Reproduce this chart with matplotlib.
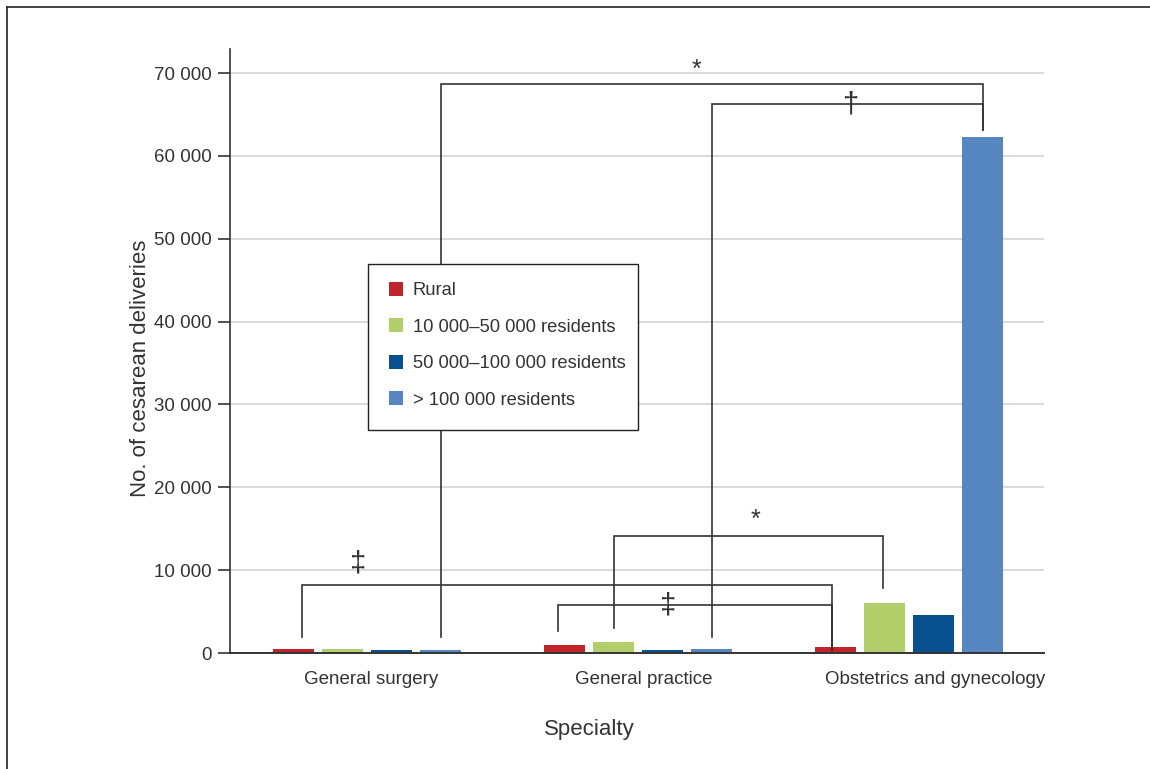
import matplotlib
matplotlib.use("Agg")
import matplotlib.pyplot as plt
import numpy as np
from matplotlib.lines import Line2D
from matplotlib.patches import Rectangle
from matplotlib.ticker import FuncFormatter

# ---------------- data ----------------
categories = ["General surgery", "General practice", "Obstetrics and gynecology"]
series_labels = ["Rural", "10 000\u201350 000 residents",
                 "50 000\u2013100 000 residents", "> 100 000 residents"]
rural = [520, 965, 725]
res_10k_50k = [500, 1370, 6075]
res_50k_100k = [400, 400, 4590]
res_over_100k = [400, 520, 62230]
y_ticks = [0, 10000, 20000, 30000, 40000, 50000, 60000, 70000]
x_label = "Specialty"
y_label = "No. of cesarean deliveries"

# significance brackets: (left group, left series), (right group, right series),
# bracket height, left leg end, right leg end, symbol
brackets = [
    ((0, 3), (2, 3), 68700, 1900, 63100, "*"),
    ((1, 3), (2, 3), 66250, 1900, 63100, "\u2020"),
    ((1, 1), (2, 1), 14100, 3000, 7850, "*"),
    ((0, 0), (2, 0), 8200, 1900, 350, "\u2021"),
    ((1, 0), (2, 0), 5800, 2650, 350, "\u2021"),
]

# ---------------- style ----------------
colors = ["#C1232B", "#B2CF6B", "#08508F", "#5687C0"]
text_color = "#333333"
line_color = "#333333"
plt.rcParams['font.family'] = ['Liberation Sans', 'DejaVu Sans']

W, H = 1150, 769
fig = plt.figure(figsize=(W / 100, H / 100), dpi=100)
ax = fig.add_axes([230 / W, 116 / H, 814 / W, 604 / H])

series = [rural, res_10k_50k, res_50k_100k, res_over_100k]
x = np.arange(len(categories))
step = 49 / 271
width = 41 / 271

def bar_center(g, s):
    return x[g] + (s - 1.5) * step

handles = []
for s, vals in enumerate(series):
    h = ax.bar(x + (s - 1.5) * step, vals, width, color=colors[s],
               label=series_labels[s], zorder=2, linewidth=0)
    handles.append(h)

ax.set_xlim((230 - 367) / 271, (1044 - 367) / 271)
ax.set_ylim(0, 72900)

# grid
ax.set_yticks(y_ticks)
ax.yaxis.set_major_formatter(FuncFormatter(lambda v, p: f"{int(v):,}".replace(",", " ")))
for t in y_ticks[1:]:
    ax.axhline(t, color="#d3d3d3", lw=1.2, zorder=1)

for sp in ["top", "right"]:
    ax.spines[sp].set_visible(False)
ax.spines["left"].set_color(line_color)
ax.spines["left"].set_linewidth(1.2)
ax.spines["bottom"].set_color(line_color)
ax.spines["bottom"].set_linewidth(1.4)
ax.spines["bottom"].set_zorder(3)

ax.tick_params(axis="y", length=9, width=1.2, color=line_color, pad=4,
               labelsize=13.5, labelcolor=text_color)
label_shift = [0.015, 0.02, 0.096]
ax.set_xticks(x + np.array(label_shift))
ax.set_xticklabels(categories)
ax.tick_params(axis="x", length=0, pad=13, labelsize=13.5, labelcolor=text_color)

ax.set_xlabel(x_label, fontsize=16, color=text_color)
ax.xaxis.set_label_coords((589 - 230) / 814, -(719 - 653) / 604)
ax.set_ylabel(y_label, fontsize=16, color=text_color)
ax.yaxis.set_label_coords((151 - 230) / 814, (653 - 368) / 604)

# brackets
sym_pos = [(1.214, 70400), (1.782, 66150), (1.435, 16100), (-0.033, 10800), (1.111, 5750)]
sym_size = [18, 21, 18, 21, 21]
leg_offset = [(0, 0), (0, 0), (0, -0.007), (0.033, -0.012), (-0.024, -0.012)]
for (b, sp, off, fs) in zip(brackets, sym_pos, leg_offset, sym_size):
    (g1, s1), (g2, s2), ytop, yb1, yb2, sym = b
    x1 = bar_center(g1, s1) + off[0]
    x2 = bar_center(g2, s2) + off[1]
    ax.plot([x1, x1, x2, x2], [yb1, ytop, ytop, yb2], color=line_color,
            lw=1.2, zorder=3, clip_on=False, solid_joinstyle="miter")
    ax.text(sp[0], sp[1], sym, ha="center", va="center", fontsize=fs,
            color=line_color, zorder=4)

# legend box drawn explicitly, legend itself frameless
box = Rectangle((367.5 / W, 1 - 429.5 / H), (638 - 367.5) / W, (429.5 - 263.5) / H,
                transform=fig.transFigure, facecolor="white", edgecolor="#222222",
                lw=1.0, zorder=5)
fig.add_artist(box)
leg = fig.legend(handles=handles, loc="upper left",
                 bbox_to_anchor=(388.5 / W, 1 - 282 / H), bbox_transform=fig.transFigure,
                 frameon=False, fontsize=13.2, handlelength=0.78, handleheight=0.78,
                 handletextpad=0.55, labelspacing=1.045, borderpad=0, borderaxespad=0)
leg.set_zorder(6)
for t in leg.get_texts():
    t.set_color(text_color)

# outer partial frame
fig.add_artist(Line2D([7.0 / W, 7.0 / W], [0, 1 - 7.0 / H], transform=fig.transFigure,
                      color="#222222", lw=1.2))
fig.add_artist(Line2D([7.0 / W, 1], [1 - 7.0 / H, 1 - 7.0 / H], transform=fig.transFigure,
                      color="#222222", lw=1.2))

fig.savefig("out.png", dpi=100)
